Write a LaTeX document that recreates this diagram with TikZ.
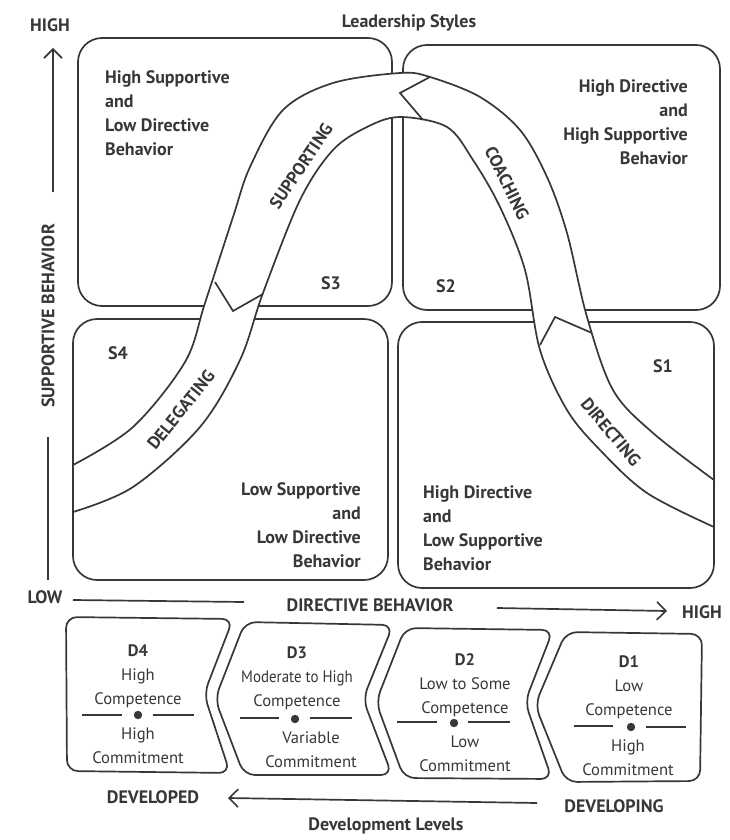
\documentclass[tikz,border=0pt]{standalone}
\usepackage{fontspec}
\setmainfont{PT Sans}
\newfontfamily\narrowfont[FakeStretch=0.9]{PT Sans}
\usetikzlibrary{arrows.meta}
\definecolor{ink}{RGB}{55,55,55}
\begin{document}
\begin{tikzpicture}[x=1pt,y=-1pt,
  line/.style={draw=ink,line width=1.7pt},
  quad/.style={line,rounded corners=24pt},
  dbox/.style={line,rounded corners=11pt,line join=round},
  arr/.style={line,-{Straight Barb[length=9pt,width=18pt,line width=1.6pt]}},
  big/.style={text=ink,font=\bfseries\fontsize{18}{24}\selectfont,inner sep=0pt},
  reg/.style={text=ink,font=\fontsize{16.6}{24}\selectfont,inner sep=0pt,align=center,anchor=north},
  blab/.style={text=ink,font=\bfseries\fontsize{17.5}{18}\selectfont,inner sep=0pt}]
\useasboundingbox (0,0) rectangle (729,840);

% quadrants
\draw[quad] (78,38) rectangle (392,306);
\draw[quad] (403,45) rectangle (720,310);
\draw[quad] (73,319) rectangle (388,580);
\draw[quad] (398,322) rectangle (714,588);

% band
\fill[white] plot[smooth,tension=0.55] coordinates {(73,465) (133,427) (185,362) (205,303) (233,217) (250,167) (283,110) (333,83) (400,73) (430,77) (480,97) (520,130) (547,177) (567,233) (587,317) (613,390) (653,433) (714,480)}
  -- plot[smooth,tension=0.55] coordinates {(714,527) (647,493) (600,450) (567,410) (540,350) (525,270) (500,207) (473,160) (447,127) (400,117) (367,127) (333,150) (300,200) (263,293) (240,360) (200,427) (133,487) (73,512)} -- cycle;
\draw[line] plot[smooth,tension=0.55] coordinates {(73,465) (133,427) (185,362) (205,303) (233,217) (250,167) (283,110) (333,83) (400,73) (430,77) (480,97) (520,130) (547,177) (567,233) (587,317) (613,390) (653,433) (714,480)};
\draw[line] plot[smooth,tension=0.55] coordinates {(714,527) (647,493) (600,450) (567,410) (540,350) (525,270) (500,207) (473,160) (447,127) (400,117) (367,127) (333,150) (300,200) (263,293) (240,360) (200,427) (133,487) (73,512)};
\draw[line] (73,462) -- (73,515);
\draw[line] (714,477) -- (714,530);
% chevrons
\draw[line,line join=miter] (430,77) -- (400,93) -- (423,120);
\draw[line,line join=miter] (215,282) -- (233,311) -- (263,294);
\draw[line,line join=miter] (540,345) -- (555,317) -- (592,333);

% band labels
\node[blab,rotate=56] (sup) at (301,166) {SUPPORTING};
\node[blab,rotate=-64] (coa) at (507,183) {COACHING};
\node[blab,rotate=51] (del) at (181,410) {DELEGATING};
\node[blab,rotate=-50] (dir) at (611,432) {DIRECTING};

% quadrant texts
\node[big,align=left,anchor=north west] (tlt) at (105,70) {High Supportive\\and\\Low Directive\\Behavior};
\node[big,align=right,anchor=north east] (trt) at (688,80) {High Directive\\and\\High Supportive\\Behavior};
\node[big,align=right,anchor=north east] (blt) at (361,482) {Low Supportive\\and\\Low Directive\\Behavior};
\node[big,align=left,anchor=north west] (brt) at (423,485) {High Directive\\and\\Low Supportive\\Behavior};
\node[big] (s3) at (331,283) {S3};
\node[big] (s2) at (446,286) {S2};
\node[big] (s4) at (118,353) {S4};
\node[big] (s1) at (663,366) {S1};

% titles and axes
\node[big] (title) at (409,23) {Leadership Styles};
\node[big] (yhigh) at (50,25) {HIGH};
\node[big,rotate=90] (ylab) at (48,316) {SUPPORTIVE BEHAVIOR};
\node[big] (ylow) at (45,597) {LOW};
\node[big] (xlab) at (370,605) {DIRECTIVE BEHAVIOR};
\node[big] (xhigh) at (702,612) {HIGH};
\coordinate (ya) at (53,192);
\coordinate (yb) at (53,48);
\draw[arr] (ya) -- (yb);
\coordinate (yc) at (48,437);
\coordinate (yd) at (48,580);
\draw[line] (yc) -- (yd);
\coordinate (xa) at (73,600);
\coordinate (xb) at (244,602);
\draw[line] (xa) -- (xb);
\coordinate (xc) at (497,608);
\coordinate (xd) at (667,611);
\draw[arr] (xc) -- (xd);

% development boxes
\draw[dbox] (66,617) -- (233,619) -- (204,694) -- (230,773) -- (67,771) -- cycle;
\draw[dbox] (215,699) -- (245,622) -- (393,625) -- (363,699) -- (392,775) -- (244,775) -- cycle;
\draw[dbox] (376,702) -- (405,628) -- (553,630) -- (525,702) -- (552,779) -- (404,778) -- cycle;
\draw[dbox] (535,705) -- (566,632) -- (702,634) -- (700,781) -- (566,782) -- cycle;

\node[reg] (d4a) at (138,645) {\textbf{D4}\\High\\Competence};
\node[reg] (d4b) at (138,728) {High\\Commitment};
\node[reg] (d3a) at (297,647) {\textbf{D3}\\{\narrowfont Moderate to High}\\Competence};
\node[reg] (d3b) at (311,732) {Variable\\Commitment};
\node[reg] (d2a) at (465,653) {\textbf{D2}\\Low to Some\\Competence};
\node[reg] (d2b) at (465,736) {Low\\Commitment};
\node[reg] (d1a) at (629,655) {\textbf{D1}\\Low\\Competence};
\node[reg] (d1b) at (628,740) {High\\Commitment};

\draw[line] (82,715) -- (122,715) (153,715) -- (194,715);
\fill[ink] (138,715) circle (4.2);
\draw[line] (240,718) -- (279,718) (310,718) -- (352,718);
\fill[ink] (295,719) circle (4.2);
\draw[line] (397,722) -- (437,722) (468,722) -- (510,722);
\fill[ink] (454,723) circle (4.2);
\draw[line] (574,726) -- (613,726) (646,727) -- (686,727);
\fill[ink] (631,727) circle (4.2);

\node[big] (dvd) at (153,797) {DEVELOPED};
\node[big] (dvg) at (614,806) {DEVELOPING};
\node[big] (dlev) at (386,826) {Development Levels};
\coordinate (da) at (537,803);
\coordinate (db) at (228,798);
\draw[arr] (da) -- (db);
\end{tikzpicture}
\end{document}
